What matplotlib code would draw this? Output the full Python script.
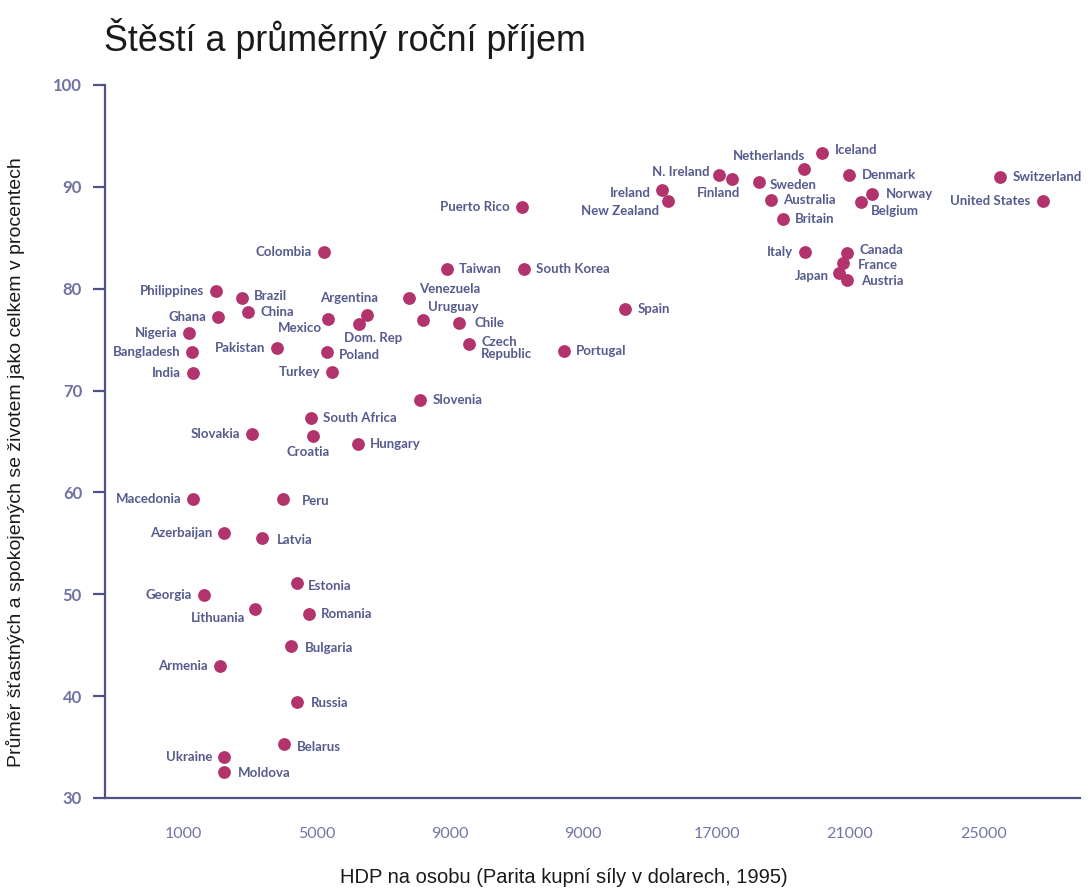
import matplotlib.pyplot as plt

# GDP per head (PPP $, 1995) and % happy/satisfied
countries = [
    "Philippines", "Brazil", "China", "Ghana", "Nigeria", "Bangladesh", "India",
    "Pakistan", "Colombia", "Argentina", "Mexico", "Dom. Rep", "Poland", "Turkey",
    "Venezuela", "Uruguay", "Chile", "Czech\nRepublic", "Taiwan", "South Korea",
    "Portugal", "Slovenia", "South Africa", "Slovakia", "Croatia", "Hungary",
    "Macedonia", "Peru", "Azerbaijan", "Latvia", "Estonia", "Georgia", "Lithuania",
    "Romania", "Bulgaria", "Armenia", "Russia", "Belarus", "Ukraine", "Moldova",
    "Spain", "Puerto Rico", "Ireland", "New Zealand", "N. Ireland", "Finland",
    "Sweden", "Netherlands", "Iceland", "Denmark", "Australia", "Britain",
    "Norway", "Belgium", "Switzerland", "United States", "Italy", "Canada",
    "France", "Japan", "Austria",
]
gdp = [
    1990, 2770, 2950, 2050, 1180, 1270, 1300,
    3820, 5230, 6520, 5350, 6280, 5320, 5470,
    7780, 8200, 9280, 9580, 8920, 11230,
    12430, 8110, 4840, 3070, 4900, 6250,
    1300, 4000, 2230, 3370, 4420, 1630, 3160,
    4780, 4240, 2110, 4420, 4030, 2230, 2230,
    14260, 11170, 15370, 15550, 17080, 17470,
    18280, 19630, 20170, 20980, 18640, 19000,
    21670, 21340, 25510, 26770, 19660, 20920,
    20800, 20680, 20920,
]
happy = [
    79.8, 79.1, 77.7, 77.2, 75.65, 73.8, 71.7,
    74.2, 83.6, 77.4, 77.0, 76.5, 73.8, 71.8,
    79.1, 76.9, 76.6, 74.6, 81.9, 81.9,
    73.9, 69.1, 67.3, 65.7, 65.5, 64.75,
    59.35, 59.35, 56.0, 55.5, 51.1, 49.9, 48.55,
    48.1, 44.9, 43.0, 39.4, 35.3, 34.0, 32.55,
    78.0, 88.0, 89.7, 88.6, 91.2, 90.8,
    90.5, 91.75, 93.3, 91.2, 88.7, 86.8,
    89.3, 88.5, 91.0, 88.6, 83.6, 83.5,
    82.5, 81.5, 80.85,
]

x_ticks = [1000, 5000, 9000, 13000, 17000, 21000, 25000]
x_tick_labels = ["1000", "5000", "9000", "9000", "17000", "21000", "25000"]
y_ticks = [30, 40, 50, 60, 70, 80, 90, 100]

# label placement (pixel offsets, up positive)
left_side = {"Philippines", "Ghana", "Nigeria", "Bangladesh", "India", "Pakistan",
             "Colombia", "Turkey", "Slovakia", "Macedonia", "Azerbaijan", "Georgia",
             "Armenia", "Ukraine", "Puerto Rico", "Italy", "United States"}
special = {
    "Brazil": (12, 2, "left"), "Argentina": (-18, 17, "center"),
    "Mexico": (-6, -9, "right"), "Dom. Rep": (14, -14, "center"),
    "Poland": (12, -3, "left"), "Venezuela": (10, 9, "left"),
    "Uruguay": (5, 13, "left"), "Chile": (15, 0, "left"),
    "Czech\nRepublic": (12, 8, "left"), "Croatia": (-5, -16, "center"),
    "Peru": (19, -2, "left"), "Latvia": (15, -2, "left"),
    "Estonia": (11, -3, "left"), "Lithuania": (-10, -9, "right"),
    "Bulgaria": (14, -2, "left"), "Russia": (14, -1, "left"),
    "Belarus": (13, -3, "left"), "Moldova": (14, -1, "left"),
    "New Zealand": (-9, -10, "right"), "N. Ireland": (-10, 3, "right"),
    "Ireland": (-12, -3, "right"), "Finland": (-14, -14, "center"),
    "Sweden": (10, -3, "left"), "Netherlands": (1, 13, "right"),
    "Iceland": (12, 3, "left"), "Belgium": (9, -9, "left"),
    "Norway": (13, 0, "left"), "Canada": (12, 3, "left"),
    "France": (14, -2, "left"), "Japan": (-10, -3, "right"),
    "Austria": (14, -1, "left"),
}

dot_color = "#b3336d"
text_color = "#565b8e"
axis_color = "#4d5288"

fig = plt.figure(figsize=(10.9, 8.9), dpi=100)
ax = fig.add_axes([0.0963, 0.1034, 0.8947, 0.8011])

ax.scatter(gdp, happy, s=85, color=dot_color, zorder=3, linewidths=0)

px = 0.72
for name, x, y in zip(countries, gdp, happy):
    if name in special:
        dx, dy, ha = special[name]
    elif name in left_side:
        dx, dy, ha = -12, 0, "right"
    else:
        dx, dy, ha = 12, 0, "left"
    va = "top" if "\n" in name else "center"
    ax.annotate(name, (x, y), xytext=(dx * px, dy * px), textcoords="offset points",
                ha=ha, va=va, fontsize=9.5, fontweight="bold", color=text_color,
                family="Lato", linespacing=1.05)

ax.set_xlim(-1340, 27900)
ax.set_ylim(30, 100)

for side in ["top", "right"]:
    ax.spines[side].set_visible(False)
for side in ["left", "bottom"]:
    ax.spines[side].set_color(axis_color)
    ax.spines[side].set_linewidth(1.6)

ax.set_xticks(x_ticks)
ax.set_xticklabels(x_tick_labels, fontsize=11.5, color="#7276a4", family="Lato")
ax.tick_params(axis="x", length=0, pad=21)
ax.set_yticks(y_ticks)
ax.set_yticklabels([str(v) for v in y_ticks], fontsize=12, fontweight="bold",
                   color="#6e72a2", family="Lato")
ax.tick_params(axis="y", length=8.5, width=1.6, color=axis_color, pad=8)

fig.text(0.095, 0.957, "Štěstí a průměrný roční příjem", fontsize=25.8,
         family="Liberation Sans", color="#1a1a1a", ha="left", va="center")
fig.text(0.517, 0.0146, "HDP na osobu (Parita kupní síly v dolarech, 1995)",
         fontsize=14.5, family="Liberation Sans", color="#1a1a1a",
         ha="center", va="center")
fig.text(0.014, 0.481, "Průměr šťastných a spokojených se životem jako celkem v procentech",
         fontsize=14, family="Liberation Sans", color="#1a1a1a", rotation=90,
         ha="center", va="center")

fig.savefig("out.png", dpi=100)
